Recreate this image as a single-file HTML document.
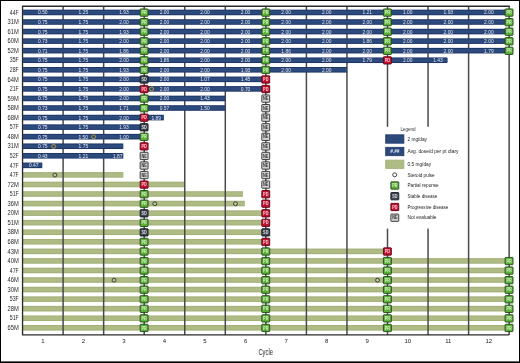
<!DOCTYPE html>
<html><head><meta charset="utf-8"><title>Swimmer plot</title>
<style>html,body{margin:0;padding:0;background:#fff;width:520px;height:363px;overflow:hidden}</style>
</head><body>
<svg width="520" height="363" viewBox="0 0 520 363" style="display:block"><rect x="0" y="0" width="520" height="363" fill="#ffffff"/><rect x="23.05" y="172.10" width="100.15" height="5.6" fill="#a2b078"/><rect x="23.05" y="173.10" width="100.15" height="3.60" fill="#afbb85"/><rect x="23.05" y="181.66" width="161.70" height="5.6" fill="#a2b078"/><rect x="23.05" y="182.66" width="161.70" height="3.60" fill="#afbb85"/><rect x="23.05" y="191.21" width="219.95" height="5.6" fill="#a2b078"/><rect x="23.05" y="192.21" width="219.95" height="3.60" fill="#afbb85"/><rect x="23.05" y="200.77" width="221.65" height="5.6" fill="#a2b078"/><rect x="23.05" y="201.77" width="221.65" height="3.60" fill="#afbb85"/><rect x="23.05" y="210.33" width="242.80" height="5.6" fill="#a2b078"/><rect x="23.05" y="211.33" width="242.80" height="3.60" fill="#afbb85"/><rect x="23.05" y="219.88" width="242.80" height="5.6" fill="#a2b078"/><rect x="23.05" y="220.88" width="242.80" height="3.60" fill="#afbb85"/><rect x="23.05" y="229.44" width="242.80" height="5.6" fill="#a2b078"/><rect x="23.05" y="230.44" width="242.80" height="3.60" fill="#afbb85"/><rect x="23.05" y="238.99" width="242.80" height="5.6" fill="#a2b078"/><rect x="23.05" y="239.99" width="242.80" height="3.60" fill="#afbb85"/><rect x="23.05" y="248.55" width="364.45" height="5.6" fill="#a2b078"/><rect x="23.05" y="249.55" width="364.45" height="3.60" fill="#afbb85"/><rect x="23.05" y="258.11" width="486.10" height="5.6" fill="#a2b078"/><rect x="23.05" y="259.11" width="486.10" height="3.60" fill="#afbb85"/><rect x="23.05" y="267.66" width="486.10" height="5.6" fill="#a2b078"/><rect x="23.05" y="268.66" width="486.10" height="3.60" fill="#afbb85"/><rect x="23.05" y="277.22" width="486.10" height="5.6" fill="#a2b078"/><rect x="23.05" y="278.22" width="486.10" height="3.60" fill="#afbb85"/><rect x="23.05" y="286.77" width="486.10" height="5.6" fill="#a2b078"/><rect x="23.05" y="287.77" width="486.10" height="3.60" fill="#afbb85"/><rect x="23.05" y="296.33" width="486.10" height="5.6" fill="#a2b078"/><rect x="23.05" y="297.33" width="486.10" height="3.60" fill="#afbb85"/><rect x="23.05" y="305.89" width="486.10" height="5.6" fill="#a2b078"/><rect x="23.05" y="306.89" width="486.10" height="3.60" fill="#afbb85"/><rect x="23.05" y="315.44" width="486.10" height="5.6" fill="#a2b078"/><rect x="23.05" y="316.44" width="486.10" height="3.60" fill="#afbb85"/><rect x="23.05" y="325.00" width="486.10" height="5.6" fill="#a2b078"/><rect x="23.05" y="326.00" width="486.10" height="3.60" fill="#afbb85"/><line x1="63.10" y1="6.2" x2="63.10" y2="334.9" stroke="#4a4a4a" stroke-width="1.5"/><line x1="103.65" y1="6.2" x2="103.65" y2="334.9" stroke="#4a4a4a" stroke-width="1.5"/><line x1="144.20" y1="6.2" x2="144.20" y2="334.9" stroke="#4a4a4a" stroke-width="1.5"/><line x1="184.75" y1="6.2" x2="184.75" y2="334.9" stroke="#4a4a4a" stroke-width="1.5"/><line x1="225.30" y1="6.2" x2="225.30" y2="334.9" stroke="#4a4a4a" stroke-width="1.5"/><line x1="265.85" y1="6.2" x2="265.85" y2="334.9" stroke="#4a4a4a" stroke-width="1.5"/><line x1="306.40" y1="6.2" x2="306.40" y2="334.9" stroke="#4a4a4a" stroke-width="1.5"/><line x1="346.95" y1="6.2" x2="346.95" y2="334.9" stroke="#4a4a4a" stroke-width="1.5"/><line x1="387.50" y1="6.2" x2="387.50" y2="334.9" stroke="#4a4a4a" stroke-width="1.5"/><line x1="428.05" y1="6.2" x2="428.05" y2="334.9" stroke="#4a4a4a" stroke-width="1.5"/><line x1="468.60" y1="6.2" x2="468.60" y2="334.9" stroke="#4a4a4a" stroke-width="1.5"/><line x1="509.15" y1="6.2" x2="509.15" y2="334.9" stroke="#4a4a4a" stroke-width="1.5"/><path d="M509.15,6.7 L509.15,6.2 L22.55,6.2 L22.55,334.9 L509.15,334.9" fill="none" stroke="#2a2a2a" stroke-width="1.35"/><rect x="23.05" y="9.65" width="486.10" height="5.6" fill="#1e3768"/><rect x="23.05" y="10.65" width="486.10" height="3.60" fill="#2d4a7c"/><rect x="23.05" y="19.21" width="486.10" height="5.6" fill="#1e3768"/><rect x="23.05" y="20.21" width="486.10" height="3.60" fill="#2d4a7c"/><rect x="23.05" y="28.76" width="486.10" height="5.6" fill="#1e3768"/><rect x="23.05" y="29.76" width="486.10" height="3.60" fill="#2d4a7c"/><rect x="23.05" y="38.32" width="486.10" height="5.6" fill="#1e3768"/><rect x="23.05" y="39.32" width="486.10" height="3.60" fill="#2d4a7c"/><rect x="23.05" y="47.87" width="486.10" height="5.6" fill="#1e3768"/><rect x="23.05" y="48.87" width="486.10" height="3.60" fill="#2d4a7c"/><rect x="23.05" y="57.43" width="424.35" height="5.6" fill="#1e3768"/><rect x="23.05" y="58.43" width="424.35" height="3.60" fill="#2d4a7c"/><rect x="23.05" y="66.99" width="323.90" height="5.6" fill="#1e3768"/><rect x="23.05" y="67.99" width="323.90" height="3.60" fill="#2d4a7c"/><rect x="23.05" y="76.54" width="242.80" height="5.6" fill="#1e3768"/><rect x="23.05" y="77.54" width="242.80" height="3.60" fill="#2d4a7c"/><rect x="23.05" y="86.10" width="242.80" height="5.6" fill="#1e3768"/><rect x="23.05" y="87.10" width="242.80" height="3.60" fill="#2d4a7c"/><rect x="23.05" y="95.65" width="202.25" height="5.6" fill="#1e3768"/><rect x="23.05" y="96.65" width="202.25" height="3.60" fill="#2d4a7c"/><rect x="23.05" y="105.21" width="202.25" height="5.6" fill="#1e3768"/><rect x="23.05" y="106.21" width="202.25" height="3.60" fill="#2d4a7c"/><rect x="23.05" y="114.77" width="140.75" height="5.6" fill="#1e3768"/><rect x="23.05" y="115.77" width="140.75" height="3.60" fill="#2d4a7c"/><rect x="23.05" y="124.32" width="121.15" height="5.6" fill="#1e3768"/><rect x="23.05" y="125.32" width="121.15" height="3.60" fill="#2d4a7c"/><rect x="23.05" y="133.88" width="121.15" height="5.6" fill="#1e3768"/><rect x="23.05" y="134.88" width="121.15" height="3.60" fill="#2d4a7c"/><rect x="23.05" y="143.43" width="100.15" height="5.6" fill="#1e3768"/><rect x="23.05" y="144.43" width="100.15" height="3.60" fill="#2d4a7c"/><rect x="23.05" y="152.99" width="100.15" height="5.6" fill="#1e3768"/><rect x="23.05" y="153.99" width="100.15" height="3.60" fill="#2d4a7c"/><rect x="23.05" y="162.55" width="19.15" height="5.6" fill="#1e3768"/><rect x="23.05" y="163.55" width="19.15" height="3.60" fill="#2d4a7c"/><rect x="352" y="126.8" width="113" height="101.8" fill="#ffffff"/><text x="42.82" y="14.45" font-size="4.9" fill="#dde3ee" text-anchor="middle" font-family="'Liberation Sans', Arial, sans-serif">0.50</text><text x="83.38" y="14.45" font-size="4.9" fill="#dde3ee" text-anchor="middle" font-family="'Liberation Sans', Arial, sans-serif">1.25</text><text x="123.92" y="14.45" font-size="4.9" fill="#dde3ee" text-anchor="middle" font-family="'Liberation Sans', Arial, sans-serif">1.93</text><text x="164.47" y="14.45" font-size="4.9" fill="#dde3ee" text-anchor="middle" font-family="'Liberation Sans', Arial, sans-serif">2.00</text><text x="205.03" y="14.45" font-size="4.9" fill="#dde3ee" text-anchor="middle" font-family="'Liberation Sans', Arial, sans-serif">2.00</text><text x="245.57" y="14.45" font-size="4.9" fill="#dde3ee" text-anchor="middle" font-family="'Liberation Sans', Arial, sans-serif">2.00</text><text x="286.12" y="14.45" font-size="4.9" fill="#dde3ee" text-anchor="middle" font-family="'Liberation Sans', Arial, sans-serif">2.00</text><text x="326.67" y="14.45" font-size="4.9" fill="#dde3ee" text-anchor="middle" font-family="'Liberation Sans', Arial, sans-serif">2.00</text><text x="367.23" y="14.45" font-size="4.9" fill="#dde3ee" text-anchor="middle" font-family="'Liberation Sans', Arial, sans-serif">1.21</text><text x="407.77" y="14.45" font-size="4.9" fill="#dde3ee" text-anchor="middle" font-family="'Liberation Sans', Arial, sans-serif">1.00</text><text x="448.32" y="14.45" font-size="4.9" fill="#dde3ee" text-anchor="middle" font-family="'Liberation Sans', Arial, sans-serif">1.93</text><text x="488.88" y="14.45" font-size="4.9" fill="#dde3ee" text-anchor="middle" font-family="'Liberation Sans', Arial, sans-serif">2.00</text><text x="42.82" y="24.01" font-size="4.9" fill="#dde3ee" text-anchor="middle" font-family="'Liberation Sans', Arial, sans-serif">0.75</text><text x="83.38" y="24.01" font-size="4.9" fill="#dde3ee" text-anchor="middle" font-family="'Liberation Sans', Arial, sans-serif">1.75</text><text x="123.92" y="24.01" font-size="4.9" fill="#dde3ee" text-anchor="middle" font-family="'Liberation Sans', Arial, sans-serif">2.00</text><text x="164.47" y="24.01" font-size="4.9" fill="#dde3ee" text-anchor="middle" font-family="'Liberation Sans', Arial, sans-serif">2.00</text><text x="205.03" y="24.01" font-size="4.9" fill="#dde3ee" text-anchor="middle" font-family="'Liberation Sans', Arial, sans-serif">2.00</text><text x="245.57" y="24.01" font-size="4.9" fill="#dde3ee" text-anchor="middle" font-family="'Liberation Sans', Arial, sans-serif">2.00</text><text x="286.12" y="24.01" font-size="4.9" fill="#dde3ee" text-anchor="middle" font-family="'Liberation Sans', Arial, sans-serif">2.00</text><text x="326.67" y="24.01" font-size="4.9" fill="#dde3ee" text-anchor="middle" font-family="'Liberation Sans', Arial, sans-serif">2.00</text><text x="367.23" y="24.01" font-size="4.9" fill="#dde3ee" text-anchor="middle" font-family="'Liberation Sans', Arial, sans-serif">2.00</text><text x="407.77" y="24.01" font-size="4.9" fill="#dde3ee" text-anchor="middle" font-family="'Liberation Sans', Arial, sans-serif">2.00</text><text x="448.32" y="24.01" font-size="4.9" fill="#dde3ee" text-anchor="middle" font-family="'Liberation Sans', Arial, sans-serif">2.00</text><text x="488.88" y="24.01" font-size="4.9" fill="#dde3ee" text-anchor="middle" font-family="'Liberation Sans', Arial, sans-serif">2.00</text><text x="42.82" y="33.56" font-size="4.9" fill="#dde3ee" text-anchor="middle" font-family="'Liberation Sans', Arial, sans-serif">0.75</text><text x="83.38" y="33.56" font-size="4.9" fill="#dde3ee" text-anchor="middle" font-family="'Liberation Sans', Arial, sans-serif">1.75</text><text x="123.92" y="33.56" font-size="4.9" fill="#dde3ee" text-anchor="middle" font-family="'Liberation Sans', Arial, sans-serif">1.93</text><text x="164.47" y="33.56" font-size="4.9" fill="#dde3ee" text-anchor="middle" font-family="'Liberation Sans', Arial, sans-serif">2.00</text><text x="205.03" y="33.56" font-size="4.9" fill="#dde3ee" text-anchor="middle" font-family="'Liberation Sans', Arial, sans-serif">2.00</text><text x="245.57" y="33.56" font-size="4.9" fill="#dde3ee" text-anchor="middle" font-family="'Liberation Sans', Arial, sans-serif">2.00</text><text x="286.12" y="33.56" font-size="4.9" fill="#dde3ee" text-anchor="middle" font-family="'Liberation Sans', Arial, sans-serif">2.00</text><text x="326.67" y="33.56" font-size="4.9" fill="#dde3ee" text-anchor="middle" font-family="'Liberation Sans', Arial, sans-serif">2.00</text><text x="367.23" y="33.56" font-size="4.9" fill="#dde3ee" text-anchor="middle" font-family="'Liberation Sans', Arial, sans-serif">2.00</text><text x="407.77" y="33.56" font-size="4.9" fill="#dde3ee" text-anchor="middle" font-family="'Liberation Sans', Arial, sans-serif">2.00</text><text x="448.32" y="33.56" font-size="4.9" fill="#dde3ee" text-anchor="middle" font-family="'Liberation Sans', Arial, sans-serif">2.00</text><text x="488.88" y="33.56" font-size="4.9" fill="#dde3ee" text-anchor="middle" font-family="'Liberation Sans', Arial, sans-serif">2.00</text><text x="42.82" y="43.12" font-size="4.9" fill="#dde3ee" text-anchor="middle" font-family="'Liberation Sans', Arial, sans-serif">0.73</text><text x="83.38" y="43.12" font-size="4.9" fill="#dde3ee" text-anchor="middle" font-family="'Liberation Sans', Arial, sans-serif">1.75</text><text x="123.92" y="43.12" font-size="4.9" fill="#dde3ee" text-anchor="middle" font-family="'Liberation Sans', Arial, sans-serif">2.00</text><text x="164.47" y="43.12" font-size="4.9" fill="#dde3ee" text-anchor="middle" font-family="'Liberation Sans', Arial, sans-serif">2.00</text><text x="205.03" y="43.12" font-size="4.9" fill="#dde3ee" text-anchor="middle" font-family="'Liberation Sans', Arial, sans-serif">2.00</text><text x="245.57" y="43.12" font-size="4.9" fill="#dde3ee" text-anchor="middle" font-family="'Liberation Sans', Arial, sans-serif">2.00</text><text x="286.12" y="43.12" font-size="4.9" fill="#dde3ee" text-anchor="middle" font-family="'Liberation Sans', Arial, sans-serif">2.00</text><text x="326.67" y="43.12" font-size="4.9" fill="#dde3ee" text-anchor="middle" font-family="'Liberation Sans', Arial, sans-serif">2.00</text><text x="367.23" y="43.12" font-size="4.9" fill="#dde3ee" text-anchor="middle" font-family="'Liberation Sans', Arial, sans-serif">1.86</text><text x="407.77" y="43.12" font-size="4.9" fill="#dde3ee" text-anchor="middle" font-family="'Liberation Sans', Arial, sans-serif">2.00</text><text x="448.32" y="43.12" font-size="4.9" fill="#dde3ee" text-anchor="middle" font-family="'Liberation Sans', Arial, sans-serif">2.00</text><text x="488.88" y="43.12" font-size="4.9" fill="#dde3ee" text-anchor="middle" font-family="'Liberation Sans', Arial, sans-serif">2.00</text><text x="42.82" y="52.67" font-size="4.9" fill="#dde3ee" text-anchor="middle" font-family="'Liberation Sans', Arial, sans-serif">0.71</text><text x="83.38" y="52.67" font-size="4.9" fill="#dde3ee" text-anchor="middle" font-family="'Liberation Sans', Arial, sans-serif">1.75</text><text x="123.92" y="52.67" font-size="4.9" fill="#dde3ee" text-anchor="middle" font-family="'Liberation Sans', Arial, sans-serif">1.86</text><text x="164.47" y="52.67" font-size="4.9" fill="#dde3ee" text-anchor="middle" font-family="'Liberation Sans', Arial, sans-serif">2.00</text><text x="205.03" y="52.67" font-size="4.9" fill="#dde3ee" text-anchor="middle" font-family="'Liberation Sans', Arial, sans-serif">2.00</text><text x="245.57" y="52.67" font-size="4.9" fill="#dde3ee" text-anchor="middle" font-family="'Liberation Sans', Arial, sans-serif">2.00</text><text x="286.12" y="52.67" font-size="4.9" fill="#dde3ee" text-anchor="middle" font-family="'Liberation Sans', Arial, sans-serif">1.86</text><text x="326.67" y="52.67" font-size="4.9" fill="#dde3ee" text-anchor="middle" font-family="'Liberation Sans', Arial, sans-serif">2.00</text><text x="367.23" y="52.67" font-size="4.9" fill="#dde3ee" text-anchor="middle" font-family="'Liberation Sans', Arial, sans-serif">2.00</text><text x="407.77" y="52.67" font-size="4.9" fill="#dde3ee" text-anchor="middle" font-family="'Liberation Sans', Arial, sans-serif">2.00</text><text x="448.32" y="52.67" font-size="4.9" fill="#dde3ee" text-anchor="middle" font-family="'Liberation Sans', Arial, sans-serif">2.00</text><text x="488.88" y="52.67" font-size="4.9" fill="#dde3ee" text-anchor="middle" font-family="'Liberation Sans', Arial, sans-serif">1.79</text><text x="42.82" y="62.23" font-size="4.9" fill="#dde3ee" text-anchor="middle" font-family="'Liberation Sans', Arial, sans-serif">0.75</text><text x="83.38" y="62.23" font-size="4.9" fill="#dde3ee" text-anchor="middle" font-family="'Liberation Sans', Arial, sans-serif">1.75</text><text x="123.92" y="62.23" font-size="4.9" fill="#dde3ee" text-anchor="middle" font-family="'Liberation Sans', Arial, sans-serif">2.00</text><text x="164.47" y="62.23" font-size="4.9" fill="#dde3ee" text-anchor="middle" font-family="'Liberation Sans', Arial, sans-serif">1.86</text><text x="205.03" y="62.23" font-size="4.9" fill="#dde3ee" text-anchor="middle" font-family="'Liberation Sans', Arial, sans-serif">2.00</text><text x="245.57" y="62.23" font-size="4.9" fill="#dde3ee" text-anchor="middle" font-family="'Liberation Sans', Arial, sans-serif">2.00</text><text x="286.12" y="62.23" font-size="4.9" fill="#dde3ee" text-anchor="middle" font-family="'Liberation Sans', Arial, sans-serif">2.00</text><text x="326.67" y="62.23" font-size="4.9" fill="#dde3ee" text-anchor="middle" font-family="'Liberation Sans', Arial, sans-serif">2.00</text><text x="367.23" y="62.23" font-size="4.9" fill="#dde3ee" text-anchor="middle" font-family="'Liberation Sans', Arial, sans-serif">1.79</text><text x="407.77" y="62.23" font-size="4.9" fill="#dde3ee" text-anchor="middle" font-family="'Liberation Sans', Arial, sans-serif">2.00</text><text x="438.00" y="62.23" font-size="4.9" fill="#dde3ee" text-anchor="middle" font-family="'Liberation Sans', Arial, sans-serif">1.43</text><text x="42.82" y="71.79" font-size="4.9" fill="#dde3ee" text-anchor="middle" font-family="'Liberation Sans', Arial, sans-serif">0.75</text><text x="83.38" y="71.79" font-size="4.9" fill="#dde3ee" text-anchor="middle" font-family="'Liberation Sans', Arial, sans-serif">1.75</text><text x="123.92" y="71.79" font-size="4.9" fill="#dde3ee" text-anchor="middle" font-family="'Liberation Sans', Arial, sans-serif">1.93</text><text x="164.47" y="71.79" font-size="4.9" fill="#dde3ee" text-anchor="middle" font-family="'Liberation Sans', Arial, sans-serif">2.00</text><text x="205.03" y="71.79" font-size="4.9" fill="#dde3ee" text-anchor="middle" font-family="'Liberation Sans', Arial, sans-serif">2.00</text><text x="245.57" y="71.79" font-size="4.9" fill="#dde3ee" text-anchor="middle" font-family="'Liberation Sans', Arial, sans-serif">1.93</text><text x="286.12" y="71.79" font-size="4.9" fill="#dde3ee" text-anchor="middle" font-family="'Liberation Sans', Arial, sans-serif">2.00</text><text x="326.67" y="71.79" font-size="4.9" fill="#dde3ee" text-anchor="middle" font-family="'Liberation Sans', Arial, sans-serif">2.00</text><text x="42.82" y="81.34" font-size="4.9" fill="#dde3ee" text-anchor="middle" font-family="'Liberation Sans', Arial, sans-serif">0.75</text><text x="83.38" y="81.34" font-size="4.9" fill="#dde3ee" text-anchor="middle" font-family="'Liberation Sans', Arial, sans-serif">1.75</text><text x="123.92" y="81.34" font-size="4.9" fill="#dde3ee" text-anchor="middle" font-family="'Liberation Sans', Arial, sans-serif">2.00</text><text x="164.47" y="81.34" font-size="4.9" fill="#dde3ee" text-anchor="middle" font-family="'Liberation Sans', Arial, sans-serif">2.00</text><text x="205.03" y="81.34" font-size="4.9" fill="#dde3ee" text-anchor="middle" font-family="'Liberation Sans', Arial, sans-serif">1.07</text><text x="245.57" y="81.34" font-size="4.9" fill="#dde3ee" text-anchor="middle" font-family="'Liberation Sans', Arial, sans-serif">1.45</text><text x="42.82" y="90.90" font-size="4.9" fill="#dde3ee" text-anchor="middle" font-family="'Liberation Sans', Arial, sans-serif">0.75</text><text x="83.38" y="90.90" font-size="4.9" fill="#dde3ee" text-anchor="middle" font-family="'Liberation Sans', Arial, sans-serif">1.75</text><text x="123.92" y="90.90" font-size="4.9" fill="#dde3ee" text-anchor="middle" font-family="'Liberation Sans', Arial, sans-serif">2.00</text><text x="164.47" y="90.90" font-size="4.9" fill="#dde3ee" text-anchor="middle" font-family="'Liberation Sans', Arial, sans-serif">2.00</text><text x="205.03" y="90.90" font-size="4.9" fill="#dde3ee" text-anchor="middle" font-family="'Liberation Sans', Arial, sans-serif">2.00</text><text x="245.57" y="90.90" font-size="4.9" fill="#dde3ee" text-anchor="middle" font-family="'Liberation Sans', Arial, sans-serif">0.70</text><text x="42.82" y="100.45" font-size="4.9" fill="#dde3ee" text-anchor="middle" font-family="'Liberation Sans', Arial, sans-serif">0.75</text><text x="83.38" y="100.45" font-size="4.9" fill="#dde3ee" text-anchor="middle" font-family="'Liberation Sans', Arial, sans-serif">1.75</text><text x="123.92" y="100.45" font-size="4.9" fill="#dde3ee" text-anchor="middle" font-family="'Liberation Sans', Arial, sans-serif">2.00</text><text x="164.47" y="100.45" font-size="4.9" fill="#dde3ee" text-anchor="middle" font-family="'Liberation Sans', Arial, sans-serif">2.00</text><text x="205.03" y="100.45" font-size="4.9" fill="#dde3ee" text-anchor="middle" font-family="'Liberation Sans', Arial, sans-serif">1.43</text><text x="42.82" y="110.01" font-size="4.9" fill="#dde3ee" text-anchor="middle" font-family="'Liberation Sans', Arial, sans-serif">0.73</text><text x="83.38" y="110.01" font-size="4.9" fill="#dde3ee" text-anchor="middle" font-family="'Liberation Sans', Arial, sans-serif">1.75</text><text x="123.92" y="110.01" font-size="4.9" fill="#dde3ee" text-anchor="middle" font-family="'Liberation Sans', Arial, sans-serif">1.71</text><text x="164.47" y="110.01" font-size="4.9" fill="#dde3ee" text-anchor="middle" font-family="'Liberation Sans', Arial, sans-serif">0.57</text><text x="205.03" y="110.01" font-size="4.9" fill="#dde3ee" text-anchor="middle" font-family="'Liberation Sans', Arial, sans-serif">1.50</text><text x="42.82" y="119.57" font-size="4.9" fill="#dde3ee" text-anchor="middle" font-family="'Liberation Sans', Arial, sans-serif">0.75</text><text x="83.38" y="119.57" font-size="4.9" fill="#dde3ee" text-anchor="middle" font-family="'Liberation Sans', Arial, sans-serif">1.75</text><text x="123.92" y="119.57" font-size="4.9" fill="#dde3ee" text-anchor="middle" font-family="'Liberation Sans', Arial, sans-serif">2.00</text><text x="156.30" y="119.57" font-size="4.9" fill="#dde3ee" text-anchor="middle" font-family="'Liberation Sans', Arial, sans-serif">1.89</text><text x="42.82" y="129.12" font-size="4.9" fill="#dde3ee" text-anchor="middle" font-family="'Liberation Sans', Arial, sans-serif">0.75</text><text x="83.38" y="129.12" font-size="4.9" fill="#dde3ee" text-anchor="middle" font-family="'Liberation Sans', Arial, sans-serif">1.75</text><text x="123.92" y="129.12" font-size="4.9" fill="#dde3ee" text-anchor="middle" font-family="'Liberation Sans', Arial, sans-serif">1.93</text><text x="42.82" y="138.68" font-size="4.9" fill="#dde3ee" text-anchor="middle" font-family="'Liberation Sans', Arial, sans-serif">0.75</text><text x="83.20" y="138.68" font-size="4.9" fill="#dde3ee" text-anchor="middle" font-family="'Liberation Sans', Arial, sans-serif">1.50</text><text x="123.92" y="138.68" font-size="4.9" fill="#dde3ee" text-anchor="middle" font-family="'Liberation Sans', Arial, sans-serif">1.00</text><text x="42.82" y="148.23" font-size="4.9" fill="#dde3ee" text-anchor="middle" font-family="'Liberation Sans', Arial, sans-serif">0.75</text><text x="83.38" y="148.23" font-size="4.9" fill="#dde3ee" text-anchor="middle" font-family="'Liberation Sans', Arial, sans-serif">1.75</text><text x="42.82" y="157.79" font-size="4.9" fill="#dde3ee" text-anchor="middle" font-family="'Liberation Sans', Arial, sans-serif">0.43</text><text x="83.38" y="157.79" font-size="4.9" fill="#dde3ee" text-anchor="middle" font-family="'Liberation Sans', Arial, sans-serif">1.21</text><text x="117.80" y="157.79" font-size="4.9" fill="#dde3ee" text-anchor="middle" font-family="'Liberation Sans', Arial, sans-serif">1.87</text><text x="33.80" y="167.35" font-size="4.9" fill="#dde3ee" text-anchor="middle" font-family="'Liberation Sans', Arial, sans-serif">0.47</text><circle cx="151.60" cy="89.05" r="1.95" fill="#2d4a7c" stroke="#c9a832" stroke-width="0.85"/><circle cx="93.60" cy="136.83" r="1.95" fill="#2d4a7c" stroke="#c9a832" stroke-width="0.85"/><circle cx="53.70" cy="146.38" r="1.95" fill="#2d4a7c" stroke="#c9a832" stroke-width="0.85"/><circle cx="54.90" cy="175.05" r="1.95" fill="#bdc995" stroke="#2a2a2a" stroke-width="0.85"/><circle cx="154.80" cy="203.72" r="1.95" fill="#bdc995" stroke="#2a2a2a" stroke-width="0.85"/><circle cx="235.50" cy="203.72" r="1.95" fill="#bdc995" stroke="#2a2a2a" stroke-width="0.85"/><circle cx="114.05" cy="280.17" r="1.95" fill="#bdc995" stroke="#2a2a2a" stroke-width="0.85"/><circle cx="377.50" cy="280.17" r="1.95" fill="#bdc995" stroke="#2a2a2a" stroke-width="0.85"/><rect x="140.15" y="8.95" width="7.9" height="7.3" rx="0.5" fill="#5cb139" stroke="#24461a" stroke-width="0.9"/><text x="144.10" y="14.25" font-size="4.5" font-weight="bold" fill="#d8f0c8" text-anchor="middle" font-family="'Liberation Sans', Arial, sans-serif" textLength="5.3" lengthAdjust="spacingAndGlyphs">PR</text><rect x="261.80" y="8.95" width="7.9" height="7.3" rx="0.5" fill="#5cb139" stroke="#24461a" stroke-width="0.9"/><text x="265.75" y="14.25" font-size="4.5" font-weight="bold" fill="#d8f0c8" text-anchor="middle" font-family="'Liberation Sans', Arial, sans-serif" textLength="5.3" lengthAdjust="spacingAndGlyphs">PR</text><rect x="383.45" y="8.95" width="7.9" height="7.3" rx="0.5" fill="#5cb139" stroke="#24461a" stroke-width="0.9"/><text x="387.40" y="14.25" font-size="4.5" font-weight="bold" fill="#d8f0c8" text-anchor="middle" font-family="'Liberation Sans', Arial, sans-serif" textLength="5.3" lengthAdjust="spacingAndGlyphs">PR</text><rect x="505.10" y="8.95" width="7.9" height="7.3" rx="0.5" fill="#5cb139" stroke="#24461a" stroke-width="0.9"/><text x="509.05" y="14.25" font-size="4.5" font-weight="bold" fill="#d8f0c8" text-anchor="middle" font-family="'Liberation Sans', Arial, sans-serif" textLength="5.3" lengthAdjust="spacingAndGlyphs">PR</text><rect x="140.15" y="18.51" width="7.9" height="7.3" rx="0.5" fill="#5cb139" stroke="#24461a" stroke-width="0.9"/><text x="144.10" y="23.81" font-size="4.5" font-weight="bold" fill="#d8f0c8" text-anchor="middle" font-family="'Liberation Sans', Arial, sans-serif" textLength="5.3" lengthAdjust="spacingAndGlyphs">PR</text><rect x="261.80" y="18.51" width="7.9" height="7.3" rx="0.5" fill="#5cb139" stroke="#24461a" stroke-width="0.9"/><text x="265.75" y="23.81" font-size="4.5" font-weight="bold" fill="#d8f0c8" text-anchor="middle" font-family="'Liberation Sans', Arial, sans-serif" textLength="5.3" lengthAdjust="spacingAndGlyphs">PR</text><rect x="383.45" y="18.51" width="7.9" height="7.3" rx="0.5" fill="#5cb139" stroke="#24461a" stroke-width="0.9"/><text x="387.40" y="23.81" font-size="4.5" font-weight="bold" fill="#d8f0c8" text-anchor="middle" font-family="'Liberation Sans', Arial, sans-serif" textLength="5.3" lengthAdjust="spacingAndGlyphs">PR</text><rect x="505.10" y="18.51" width="7.9" height="7.3" rx="0.5" fill="#5cb139" stroke="#24461a" stroke-width="0.9"/><text x="509.05" y="23.81" font-size="4.5" font-weight="bold" fill="#d8f0c8" text-anchor="middle" font-family="'Liberation Sans', Arial, sans-serif" textLength="5.3" lengthAdjust="spacingAndGlyphs">PR</text><rect x="140.15" y="28.06" width="7.9" height="7.3" rx="0.5" fill="#5cb139" stroke="#24461a" stroke-width="0.9"/><text x="144.10" y="33.36" font-size="4.5" font-weight="bold" fill="#d8f0c8" text-anchor="middle" font-family="'Liberation Sans', Arial, sans-serif" textLength="5.3" lengthAdjust="spacingAndGlyphs">PR</text><rect x="261.80" y="28.06" width="7.9" height="7.3" rx="0.5" fill="#5cb139" stroke="#24461a" stroke-width="0.9"/><text x="265.75" y="33.36" font-size="4.5" font-weight="bold" fill="#d8f0c8" text-anchor="middle" font-family="'Liberation Sans', Arial, sans-serif" textLength="5.3" lengthAdjust="spacingAndGlyphs">PR</text><rect x="383.45" y="28.06" width="7.9" height="7.3" rx="0.5" fill="#5cb139" stroke="#24461a" stroke-width="0.9"/><text x="387.40" y="33.36" font-size="4.5" font-weight="bold" fill="#d8f0c8" text-anchor="middle" font-family="'Liberation Sans', Arial, sans-serif" textLength="5.3" lengthAdjust="spacingAndGlyphs">PR</text><rect x="505.10" y="28.06" width="7.9" height="7.3" rx="0.5" fill="#5cb139" stroke="#24461a" stroke-width="0.9"/><text x="509.05" y="33.36" font-size="4.5" font-weight="bold" fill="#d8f0c8" text-anchor="middle" font-family="'Liberation Sans', Arial, sans-serif" textLength="5.3" lengthAdjust="spacingAndGlyphs">PR</text><rect x="140.15" y="37.62" width="7.9" height="7.3" rx="0.5" fill="#5cb139" stroke="#24461a" stroke-width="0.9"/><text x="144.10" y="42.92" font-size="4.5" font-weight="bold" fill="#d8f0c8" text-anchor="middle" font-family="'Liberation Sans', Arial, sans-serif" textLength="5.3" lengthAdjust="spacingAndGlyphs">PR</text><rect x="261.80" y="37.62" width="7.9" height="7.3" rx="0.5" fill="#5cb139" stroke="#24461a" stroke-width="0.9"/><text x="265.75" y="42.92" font-size="4.5" font-weight="bold" fill="#d8f0c8" text-anchor="middle" font-family="'Liberation Sans', Arial, sans-serif" textLength="5.3" lengthAdjust="spacingAndGlyphs">PR</text><rect x="383.45" y="37.62" width="7.9" height="7.3" rx="0.5" fill="#5cb139" stroke="#24461a" stroke-width="0.9"/><text x="387.40" y="42.92" font-size="4.5" font-weight="bold" fill="#d8f0c8" text-anchor="middle" font-family="'Liberation Sans', Arial, sans-serif" textLength="5.3" lengthAdjust="spacingAndGlyphs">PR</text><rect x="505.10" y="37.62" width="7.9" height="7.3" rx="0.5" fill="#5cb139" stroke="#24461a" stroke-width="0.9"/><text x="509.05" y="42.92" font-size="4.5" font-weight="bold" fill="#d8f0c8" text-anchor="middle" font-family="'Liberation Sans', Arial, sans-serif" textLength="5.3" lengthAdjust="spacingAndGlyphs">PR</text><rect x="140.15" y="47.17" width="7.9" height="7.3" rx="0.5" fill="#5cb139" stroke="#24461a" stroke-width="0.9"/><text x="144.10" y="52.47" font-size="4.5" font-weight="bold" fill="#d8f0c8" text-anchor="middle" font-family="'Liberation Sans', Arial, sans-serif" textLength="5.3" lengthAdjust="spacingAndGlyphs">PR</text><rect x="261.80" y="47.17" width="7.9" height="7.3" rx="0.5" fill="#5cb139" stroke="#24461a" stroke-width="0.9"/><text x="265.75" y="52.47" font-size="4.5" font-weight="bold" fill="#d8f0c8" text-anchor="middle" font-family="'Liberation Sans', Arial, sans-serif" textLength="5.3" lengthAdjust="spacingAndGlyphs">PR</text><rect x="383.45" y="47.17" width="7.9" height="7.3" rx="0.5" fill="#5cb139" stroke="#24461a" stroke-width="0.9"/><text x="387.40" y="52.47" font-size="4.5" font-weight="bold" fill="#d8f0c8" text-anchor="middle" font-family="'Liberation Sans', Arial, sans-serif" textLength="5.3" lengthAdjust="spacingAndGlyphs">PR</text><rect x="505.10" y="47.17" width="7.9" height="7.3" rx="0.5" fill="#5cb139" stroke="#24461a" stroke-width="0.9"/><text x="509.05" y="52.47" font-size="4.5" font-weight="bold" fill="#d8f0c8" text-anchor="middle" font-family="'Liberation Sans', Arial, sans-serif" textLength="5.3" lengthAdjust="spacingAndGlyphs">PR</text><rect x="140.15" y="56.73" width="7.9" height="7.3" rx="0.5" fill="#5cb139" stroke="#24461a" stroke-width="0.9"/><text x="144.10" y="62.03" font-size="4.5" font-weight="bold" fill="#d8f0c8" text-anchor="middle" font-family="'Liberation Sans', Arial, sans-serif" textLength="5.3" lengthAdjust="spacingAndGlyphs">PR</text><rect x="261.80" y="56.73" width="7.9" height="7.3" rx="0.5" fill="#5cb139" stroke="#24461a" stroke-width="0.9"/><text x="265.75" y="62.03" font-size="4.5" font-weight="bold" fill="#d8f0c8" text-anchor="middle" font-family="'Liberation Sans', Arial, sans-serif" textLength="5.3" lengthAdjust="spacingAndGlyphs">PR</text><rect x="383.45" y="56.73" width="7.9" height="7.3" rx="0.5" fill="#c4102f" stroke="#5a0614" stroke-width="0.9"/><text x="387.40" y="62.03" font-size="4.5" font-weight="bold" fill="#f4d0d8" text-anchor="middle" font-family="'Liberation Sans', Arial, sans-serif" textLength="5.3" lengthAdjust="spacingAndGlyphs">PD</text><rect x="140.15" y="66.29" width="7.9" height="7.3" rx="0.5" fill="#5cb139" stroke="#24461a" stroke-width="0.9"/><text x="144.10" y="71.59" font-size="4.5" font-weight="bold" fill="#d8f0c8" text-anchor="middle" font-family="'Liberation Sans', Arial, sans-serif" textLength="5.3" lengthAdjust="spacingAndGlyphs">PR</text><rect x="261.80" y="66.29" width="7.9" height="7.3" rx="0.5" fill="#5cb139" stroke="#24461a" stroke-width="0.9"/><text x="265.75" y="71.59" font-size="4.5" font-weight="bold" fill="#d8f0c8" text-anchor="middle" font-family="'Liberation Sans', Arial, sans-serif" textLength="5.3" lengthAdjust="spacingAndGlyphs">PR</text><rect x="140.15" y="75.84" width="7.9" height="7.3" rx="0.5" fill="#3d4452" stroke="#15181e" stroke-width="0.9"/><text x="144.10" y="81.14" font-size="4.5" font-weight="bold" fill="#d8dce4" text-anchor="middle" font-family="'Liberation Sans', Arial, sans-serif" textLength="5.3" lengthAdjust="spacingAndGlyphs">SD</text><rect x="261.80" y="75.84" width="7.9" height="7.3" rx="0.5" fill="#c4102f" stroke="#5a0614" stroke-width="0.9"/><text x="265.75" y="81.14" font-size="4.5" font-weight="bold" fill="#f4d0d8" text-anchor="middle" font-family="'Liberation Sans', Arial, sans-serif" textLength="5.3" lengthAdjust="spacingAndGlyphs">PD</text><rect x="140.15" y="85.40" width="7.9" height="7.3" rx="0.5" fill="#c4102f" stroke="#5a0614" stroke-width="0.9"/><text x="144.10" y="90.70" font-size="4.5" font-weight="bold" fill="#f4d0d8" text-anchor="middle" font-family="'Liberation Sans', Arial, sans-serif" textLength="5.3" lengthAdjust="spacingAndGlyphs">PD</text><rect x="261.80" y="85.40" width="7.9" height="7.3" rx="0.5" fill="#c4102f" stroke="#5a0614" stroke-width="0.9"/><text x="265.75" y="90.70" font-size="4.5" font-weight="bold" fill="#f4d0d8" text-anchor="middle" font-family="'Liberation Sans', Arial, sans-serif" textLength="5.3" lengthAdjust="spacingAndGlyphs">PD</text><rect x="140.15" y="94.95" width="7.9" height="7.3" rx="0.5" fill="#5cb139" stroke="#24461a" stroke-width="0.9"/><text x="144.10" y="100.25" font-size="4.5" font-weight="bold" fill="#d8f0c8" text-anchor="middle" font-family="'Liberation Sans', Arial, sans-serif" textLength="5.3" lengthAdjust="spacingAndGlyphs">PR</text><rect x="261.80" y="94.95" width="7.9" height="7.3" rx="0.5" fill="#cfcfcf" stroke="#2e2e2e" stroke-width="0.9"/><text x="265.75" y="100.25" font-size="4.5" font-weight="bold" fill="#333333" text-anchor="middle" font-family="'Liberation Sans', Arial, sans-serif" textLength="5.3" lengthAdjust="spacingAndGlyphs">NE</text><rect x="140.15" y="104.51" width="7.9" height="7.3" rx="0.5" fill="#5cb139" stroke="#24461a" stroke-width="0.9"/><text x="144.10" y="109.81" font-size="4.5" font-weight="bold" fill="#d8f0c8" text-anchor="middle" font-family="'Liberation Sans', Arial, sans-serif" textLength="5.3" lengthAdjust="spacingAndGlyphs">PR</text><rect x="261.80" y="104.51" width="7.9" height="7.3" rx="0.5" fill="#cfcfcf" stroke="#2e2e2e" stroke-width="0.9"/><text x="265.75" y="109.81" font-size="4.5" font-weight="bold" fill="#333333" text-anchor="middle" font-family="'Liberation Sans', Arial, sans-serif" textLength="5.3" lengthAdjust="spacingAndGlyphs">NE</text><rect x="140.15" y="114.07" width="7.9" height="7.3" rx="0.5" fill="#c4102f" stroke="#5a0614" stroke-width="0.9"/><text x="144.10" y="119.37" font-size="4.5" font-weight="bold" fill="#f4d0d8" text-anchor="middle" font-family="'Liberation Sans', Arial, sans-serif" textLength="5.3" lengthAdjust="spacingAndGlyphs">PD</text><rect x="261.80" y="114.07" width="7.9" height="7.3" rx="0.5" fill="#cfcfcf" stroke="#2e2e2e" stroke-width="0.9"/><text x="265.75" y="119.37" font-size="4.5" font-weight="bold" fill="#333333" text-anchor="middle" font-family="'Liberation Sans', Arial, sans-serif" textLength="5.3" lengthAdjust="spacingAndGlyphs">NE</text><rect x="140.15" y="123.62" width="7.9" height="7.3" rx="0.5" fill="#3d4452" stroke="#15181e" stroke-width="0.9"/><text x="144.10" y="128.92" font-size="4.5" font-weight="bold" fill="#d8dce4" text-anchor="middle" font-family="'Liberation Sans', Arial, sans-serif" textLength="5.3" lengthAdjust="spacingAndGlyphs">SD</text><rect x="261.80" y="123.62" width="7.9" height="7.3" rx="0.5" fill="#cfcfcf" stroke="#2e2e2e" stroke-width="0.9"/><text x="265.75" y="128.92" font-size="4.5" font-weight="bold" fill="#333333" text-anchor="middle" font-family="'Liberation Sans', Arial, sans-serif" textLength="5.3" lengthAdjust="spacingAndGlyphs">NE</text><rect x="140.15" y="133.18" width="7.9" height="7.3" rx="0.5" fill="#5cb139" stroke="#24461a" stroke-width="0.9"/><text x="144.10" y="138.48" font-size="4.5" font-weight="bold" fill="#d8f0c8" text-anchor="middle" font-family="'Liberation Sans', Arial, sans-serif" textLength="5.3" lengthAdjust="spacingAndGlyphs">PR</text><rect x="261.80" y="133.18" width="7.9" height="7.3" rx="0.5" fill="#cfcfcf" stroke="#2e2e2e" stroke-width="0.9"/><text x="265.75" y="138.48" font-size="4.5" font-weight="bold" fill="#333333" text-anchor="middle" font-family="'Liberation Sans', Arial, sans-serif" textLength="5.3" lengthAdjust="spacingAndGlyphs">NE</text><rect x="140.15" y="142.73" width="7.9" height="7.3" rx="0.5" fill="#c4102f" stroke="#5a0614" stroke-width="0.9"/><text x="144.10" y="148.03" font-size="4.5" font-weight="bold" fill="#f4d0d8" text-anchor="middle" font-family="'Liberation Sans', Arial, sans-serif" textLength="5.3" lengthAdjust="spacingAndGlyphs">PD</text><rect x="261.80" y="142.73" width="7.9" height="7.3" rx="0.5" fill="#cfcfcf" stroke="#2e2e2e" stroke-width="0.9"/><text x="265.75" y="148.03" font-size="4.5" font-weight="bold" fill="#333333" text-anchor="middle" font-family="'Liberation Sans', Arial, sans-serif" textLength="5.3" lengthAdjust="spacingAndGlyphs">NE</text><rect x="140.15" y="152.29" width="7.9" height="7.3" rx="0.5" fill="#cfcfcf" stroke="#2e2e2e" stroke-width="0.9"/><text x="144.10" y="157.59" font-size="4.5" font-weight="bold" fill="#333333" text-anchor="middle" font-family="'Liberation Sans', Arial, sans-serif" textLength="5.3" lengthAdjust="spacingAndGlyphs">NE</text><rect x="261.80" y="152.29" width="7.9" height="7.3" rx="0.5" fill="#cfcfcf" stroke="#2e2e2e" stroke-width="0.9"/><text x="265.75" y="157.59" font-size="4.5" font-weight="bold" fill="#333333" text-anchor="middle" font-family="'Liberation Sans', Arial, sans-serif" textLength="5.3" lengthAdjust="spacingAndGlyphs">NE</text><rect x="140.15" y="161.85" width="7.9" height="7.3" rx="0.5" fill="#cfcfcf" stroke="#2e2e2e" stroke-width="0.9"/><text x="144.10" y="167.15" font-size="4.5" font-weight="bold" fill="#333333" text-anchor="middle" font-family="'Liberation Sans', Arial, sans-serif" textLength="5.3" lengthAdjust="spacingAndGlyphs">NE</text><rect x="261.80" y="161.85" width="7.9" height="7.3" rx="0.5" fill="#cfcfcf" stroke="#2e2e2e" stroke-width="0.9"/><text x="265.75" y="167.15" font-size="4.5" font-weight="bold" fill="#333333" text-anchor="middle" font-family="'Liberation Sans', Arial, sans-serif" textLength="5.3" lengthAdjust="spacingAndGlyphs">NE</text><rect x="140.15" y="171.40" width="7.9" height="7.3" rx="0.5" fill="#cfcfcf" stroke="#2e2e2e" stroke-width="0.9"/><text x="144.10" y="176.70" font-size="4.5" font-weight="bold" fill="#333333" text-anchor="middle" font-family="'Liberation Sans', Arial, sans-serif" textLength="5.3" lengthAdjust="spacingAndGlyphs">NE</text><rect x="261.80" y="171.40" width="7.9" height="7.3" rx="0.5" fill="#cfcfcf" stroke="#2e2e2e" stroke-width="0.9"/><text x="265.75" y="176.70" font-size="4.5" font-weight="bold" fill="#333333" text-anchor="middle" font-family="'Liberation Sans', Arial, sans-serif" textLength="5.3" lengthAdjust="spacingAndGlyphs">NE</text><rect x="140.15" y="180.96" width="7.9" height="7.3" rx="0.5" fill="#c4102f" stroke="#5a0614" stroke-width="0.9"/><text x="144.10" y="186.26" font-size="4.5" font-weight="bold" fill="#f4d0d8" text-anchor="middle" font-family="'Liberation Sans', Arial, sans-serif" textLength="5.3" lengthAdjust="spacingAndGlyphs">PD</text><rect x="261.80" y="180.96" width="7.9" height="7.3" rx="0.5" fill="#cfcfcf" stroke="#2e2e2e" stroke-width="0.9"/><text x="265.75" y="186.26" font-size="4.5" font-weight="bold" fill="#333333" text-anchor="middle" font-family="'Liberation Sans', Arial, sans-serif" textLength="5.3" lengthAdjust="spacingAndGlyphs">NE</text><rect x="140.15" y="190.51" width="7.9" height="7.3" rx="0.5" fill="#5cb139" stroke="#24461a" stroke-width="0.9"/><text x="144.10" y="195.81" font-size="4.5" font-weight="bold" fill="#d8f0c8" text-anchor="middle" font-family="'Liberation Sans', Arial, sans-serif" textLength="5.3" lengthAdjust="spacingAndGlyphs">PR</text><rect x="261.80" y="190.51" width="7.9" height="7.3" rx="0.5" fill="#c4102f" stroke="#5a0614" stroke-width="0.9"/><text x="265.75" y="195.81" font-size="4.5" font-weight="bold" fill="#f4d0d8" text-anchor="middle" font-family="'Liberation Sans', Arial, sans-serif" textLength="5.3" lengthAdjust="spacingAndGlyphs">PD</text><rect x="140.15" y="200.07" width="7.9" height="7.3" rx="0.5" fill="#5cb139" stroke="#24461a" stroke-width="0.9"/><text x="144.10" y="205.37" font-size="4.5" font-weight="bold" fill="#d8f0c8" text-anchor="middle" font-family="'Liberation Sans', Arial, sans-serif" textLength="5.3" lengthAdjust="spacingAndGlyphs">PR</text><rect x="261.80" y="200.07" width="7.9" height="7.3" rx="0.5" fill="#c4102f" stroke="#5a0614" stroke-width="0.9"/><text x="265.75" y="205.37" font-size="4.5" font-weight="bold" fill="#f4d0d8" text-anchor="middle" font-family="'Liberation Sans', Arial, sans-serif" textLength="5.3" lengthAdjust="spacingAndGlyphs">PD</text><rect x="140.15" y="209.63" width="7.9" height="7.3" rx="0.5" fill="#3d4452" stroke="#15181e" stroke-width="0.9"/><text x="144.10" y="214.93" font-size="4.5" font-weight="bold" fill="#d8dce4" text-anchor="middle" font-family="'Liberation Sans', Arial, sans-serif" textLength="5.3" lengthAdjust="spacingAndGlyphs">SD</text><rect x="261.80" y="209.63" width="7.9" height="7.3" rx="0.5" fill="#c4102f" stroke="#5a0614" stroke-width="0.9"/><text x="265.75" y="214.93" font-size="4.5" font-weight="bold" fill="#f4d0d8" text-anchor="middle" font-family="'Liberation Sans', Arial, sans-serif" textLength="5.3" lengthAdjust="spacingAndGlyphs">PD</text><rect x="140.15" y="219.18" width="7.9" height="7.3" rx="0.5" fill="#5cb139" stroke="#24461a" stroke-width="0.9"/><text x="144.10" y="224.48" font-size="4.5" font-weight="bold" fill="#d8f0c8" text-anchor="middle" font-family="'Liberation Sans', Arial, sans-serif" textLength="5.3" lengthAdjust="spacingAndGlyphs">PR</text><rect x="261.80" y="219.18" width="7.9" height="7.3" rx="0.5" fill="#c4102f" stroke="#5a0614" stroke-width="0.9"/><text x="265.75" y="224.48" font-size="4.5" font-weight="bold" fill="#f4d0d8" text-anchor="middle" font-family="'Liberation Sans', Arial, sans-serif" textLength="5.3" lengthAdjust="spacingAndGlyphs">PD</text><rect x="140.15" y="228.74" width="7.9" height="7.3" rx="0.5" fill="#3d4452" stroke="#15181e" stroke-width="0.9"/><text x="144.10" y="234.04" font-size="4.5" font-weight="bold" fill="#d8dce4" text-anchor="middle" font-family="'Liberation Sans', Arial, sans-serif" textLength="5.3" lengthAdjust="spacingAndGlyphs">SD</text><rect x="261.80" y="228.74" width="7.9" height="7.3" rx="0.5" fill="#3d4452" stroke="#15181e" stroke-width="0.9"/><text x="265.75" y="234.04" font-size="4.5" font-weight="bold" fill="#d8dce4" text-anchor="middle" font-family="'Liberation Sans', Arial, sans-serif" textLength="5.3" lengthAdjust="spacingAndGlyphs">SD</text><rect x="140.15" y="238.29" width="7.9" height="7.3" rx="0.5" fill="#5cb139" stroke="#24461a" stroke-width="0.9"/><text x="144.10" y="243.59" font-size="4.5" font-weight="bold" fill="#d8f0c8" text-anchor="middle" font-family="'Liberation Sans', Arial, sans-serif" textLength="5.3" lengthAdjust="spacingAndGlyphs">PR</text><rect x="261.80" y="238.29" width="7.9" height="7.3" rx="0.5" fill="#c4102f" stroke="#5a0614" stroke-width="0.9"/><text x="265.75" y="243.59" font-size="4.5" font-weight="bold" fill="#f4d0d8" text-anchor="middle" font-family="'Liberation Sans', Arial, sans-serif" textLength="5.3" lengthAdjust="spacingAndGlyphs">PD</text><rect x="140.15" y="247.85" width="7.9" height="7.3" rx="0.5" fill="#5cb139" stroke="#24461a" stroke-width="0.9"/><text x="144.10" y="253.15" font-size="4.5" font-weight="bold" fill="#d8f0c8" text-anchor="middle" font-family="'Liberation Sans', Arial, sans-serif" textLength="5.3" lengthAdjust="spacingAndGlyphs">PR</text><rect x="261.80" y="247.85" width="7.9" height="7.3" rx="0.5" fill="#5cb139" stroke="#24461a" stroke-width="0.9"/><text x="265.75" y="253.15" font-size="4.5" font-weight="bold" fill="#d8f0c8" text-anchor="middle" font-family="'Liberation Sans', Arial, sans-serif" textLength="5.3" lengthAdjust="spacingAndGlyphs">PR</text><rect x="383.45" y="247.85" width="7.9" height="7.3" rx="0.5" fill="#c4102f" stroke="#5a0614" stroke-width="0.9"/><text x="387.40" y="253.15" font-size="4.5" font-weight="bold" fill="#f4d0d8" text-anchor="middle" font-family="'Liberation Sans', Arial, sans-serif" textLength="5.3" lengthAdjust="spacingAndGlyphs">PD</text><rect x="140.15" y="257.41" width="7.9" height="7.3" rx="0.5" fill="#5cb139" stroke="#24461a" stroke-width="0.9"/><text x="144.10" y="262.71" font-size="4.5" font-weight="bold" fill="#d8f0c8" text-anchor="middle" font-family="'Liberation Sans', Arial, sans-serif" textLength="5.3" lengthAdjust="spacingAndGlyphs">PR</text><rect x="261.80" y="257.41" width="7.9" height="7.3" rx="0.5" fill="#5cb139" stroke="#24461a" stroke-width="0.9"/><text x="265.75" y="262.71" font-size="4.5" font-weight="bold" fill="#d8f0c8" text-anchor="middle" font-family="'Liberation Sans', Arial, sans-serif" textLength="5.3" lengthAdjust="spacingAndGlyphs">PR</text><rect x="383.45" y="257.41" width="7.9" height="7.3" rx="0.5" fill="#5cb139" stroke="#24461a" stroke-width="0.9"/><text x="387.40" y="262.71" font-size="4.5" font-weight="bold" fill="#d8f0c8" text-anchor="middle" font-family="'Liberation Sans', Arial, sans-serif" textLength="5.3" lengthAdjust="spacingAndGlyphs">PR</text><rect x="505.10" y="257.41" width="7.9" height="7.3" rx="0.5" fill="#5cb139" stroke="#24461a" stroke-width="0.9"/><text x="509.05" y="262.71" font-size="4.5" font-weight="bold" fill="#d8f0c8" text-anchor="middle" font-family="'Liberation Sans', Arial, sans-serif" textLength="5.3" lengthAdjust="spacingAndGlyphs">PR</text><rect x="140.15" y="266.96" width="7.9" height="7.3" rx="0.5" fill="#5cb139" stroke="#24461a" stroke-width="0.9"/><text x="144.10" y="272.26" font-size="4.5" font-weight="bold" fill="#d8f0c8" text-anchor="middle" font-family="'Liberation Sans', Arial, sans-serif" textLength="5.3" lengthAdjust="spacingAndGlyphs">PR</text><rect x="261.80" y="266.96" width="7.9" height="7.3" rx="0.5" fill="#5cb139" stroke="#24461a" stroke-width="0.9"/><text x="265.75" y="272.26" font-size="4.5" font-weight="bold" fill="#d8f0c8" text-anchor="middle" font-family="'Liberation Sans', Arial, sans-serif" textLength="5.3" lengthAdjust="spacingAndGlyphs">PR</text><rect x="383.45" y="266.96" width="7.9" height="7.3" rx="0.5" fill="#5cb139" stroke="#24461a" stroke-width="0.9"/><text x="387.40" y="272.26" font-size="4.5" font-weight="bold" fill="#d8f0c8" text-anchor="middle" font-family="'Liberation Sans', Arial, sans-serif" textLength="5.3" lengthAdjust="spacingAndGlyphs">PR</text><rect x="505.10" y="266.96" width="7.9" height="7.3" rx="0.5" fill="#5cb139" stroke="#24461a" stroke-width="0.9"/><text x="509.05" y="272.26" font-size="4.5" font-weight="bold" fill="#d8f0c8" text-anchor="middle" font-family="'Liberation Sans', Arial, sans-serif" textLength="5.3" lengthAdjust="spacingAndGlyphs">PR</text><rect x="140.15" y="276.52" width="7.9" height="7.3" rx="0.5" fill="#5cb139" stroke="#24461a" stroke-width="0.9"/><text x="144.10" y="281.82" font-size="4.5" font-weight="bold" fill="#d8f0c8" text-anchor="middle" font-family="'Liberation Sans', Arial, sans-serif" textLength="5.3" lengthAdjust="spacingAndGlyphs">PR</text><rect x="261.80" y="276.52" width="7.9" height="7.3" rx="0.5" fill="#5cb139" stroke="#24461a" stroke-width="0.9"/><text x="265.75" y="281.82" font-size="4.5" font-weight="bold" fill="#d8f0c8" text-anchor="middle" font-family="'Liberation Sans', Arial, sans-serif" textLength="5.3" lengthAdjust="spacingAndGlyphs">PR</text><rect x="383.45" y="276.52" width="7.9" height="7.3" rx="0.5" fill="#5cb139" stroke="#24461a" stroke-width="0.9"/><text x="387.40" y="281.82" font-size="4.5" font-weight="bold" fill="#d8f0c8" text-anchor="middle" font-family="'Liberation Sans', Arial, sans-serif" textLength="5.3" lengthAdjust="spacingAndGlyphs">PR</text><rect x="505.10" y="276.52" width="7.9" height="7.3" rx="0.5" fill="#5cb139" stroke="#24461a" stroke-width="0.9"/><text x="509.05" y="281.82" font-size="4.5" font-weight="bold" fill="#d8f0c8" text-anchor="middle" font-family="'Liberation Sans', Arial, sans-serif" textLength="5.3" lengthAdjust="spacingAndGlyphs">PR</text><rect x="140.15" y="286.07" width="7.9" height="7.3" rx="0.5" fill="#5cb139" stroke="#24461a" stroke-width="0.9"/><text x="144.10" y="291.37" font-size="4.5" font-weight="bold" fill="#d8f0c8" text-anchor="middle" font-family="'Liberation Sans', Arial, sans-serif" textLength="5.3" lengthAdjust="spacingAndGlyphs">PR</text><rect x="261.80" y="286.07" width="7.9" height="7.3" rx="0.5" fill="#5cb139" stroke="#24461a" stroke-width="0.9"/><text x="265.75" y="291.37" font-size="4.5" font-weight="bold" fill="#d8f0c8" text-anchor="middle" font-family="'Liberation Sans', Arial, sans-serif" textLength="5.3" lengthAdjust="spacingAndGlyphs">PR</text><rect x="383.45" y="286.07" width="7.9" height="7.3" rx="0.5" fill="#5cb139" stroke="#24461a" stroke-width="0.9"/><text x="387.40" y="291.37" font-size="4.5" font-weight="bold" fill="#d8f0c8" text-anchor="middle" font-family="'Liberation Sans', Arial, sans-serif" textLength="5.3" lengthAdjust="spacingAndGlyphs">PR</text><rect x="505.10" y="286.07" width="7.9" height="7.3" rx="0.5" fill="#5cb139" stroke="#24461a" stroke-width="0.9"/><text x="509.05" y="291.37" font-size="4.5" font-weight="bold" fill="#d8f0c8" text-anchor="middle" font-family="'Liberation Sans', Arial, sans-serif" textLength="5.3" lengthAdjust="spacingAndGlyphs">PR</text><rect x="140.15" y="295.63" width="7.9" height="7.3" rx="0.5" fill="#5cb139" stroke="#24461a" stroke-width="0.9"/><text x="144.10" y="300.93" font-size="4.5" font-weight="bold" fill="#d8f0c8" text-anchor="middle" font-family="'Liberation Sans', Arial, sans-serif" textLength="5.3" lengthAdjust="spacingAndGlyphs">PR</text><rect x="261.80" y="295.63" width="7.9" height="7.3" rx="0.5" fill="#5cb139" stroke="#24461a" stroke-width="0.9"/><text x="265.75" y="300.93" font-size="4.5" font-weight="bold" fill="#d8f0c8" text-anchor="middle" font-family="'Liberation Sans', Arial, sans-serif" textLength="5.3" lengthAdjust="spacingAndGlyphs">PR</text><rect x="383.45" y="295.63" width="7.9" height="7.3" rx="0.5" fill="#5cb139" stroke="#24461a" stroke-width="0.9"/><text x="387.40" y="300.93" font-size="4.5" font-weight="bold" fill="#d8f0c8" text-anchor="middle" font-family="'Liberation Sans', Arial, sans-serif" textLength="5.3" lengthAdjust="spacingAndGlyphs">PR</text><rect x="505.10" y="295.63" width="7.9" height="7.3" rx="0.5" fill="#5cb139" stroke="#24461a" stroke-width="0.9"/><text x="509.05" y="300.93" font-size="4.5" font-weight="bold" fill="#d8f0c8" text-anchor="middle" font-family="'Liberation Sans', Arial, sans-serif" textLength="5.3" lengthAdjust="spacingAndGlyphs">PR</text><rect x="140.15" y="305.19" width="7.9" height="7.3" rx="0.5" fill="#5cb139" stroke="#24461a" stroke-width="0.9"/><text x="144.10" y="310.49" font-size="4.5" font-weight="bold" fill="#d8f0c8" text-anchor="middle" font-family="'Liberation Sans', Arial, sans-serif" textLength="5.3" lengthAdjust="spacingAndGlyphs">PR</text><rect x="261.80" y="305.19" width="7.9" height="7.3" rx="0.5" fill="#5cb139" stroke="#24461a" stroke-width="0.9"/><text x="265.75" y="310.49" font-size="4.5" font-weight="bold" fill="#d8f0c8" text-anchor="middle" font-family="'Liberation Sans', Arial, sans-serif" textLength="5.3" lengthAdjust="spacingAndGlyphs">PR</text><rect x="383.45" y="305.19" width="7.9" height="7.3" rx="0.5" fill="#5cb139" stroke="#24461a" stroke-width="0.9"/><text x="387.40" y="310.49" font-size="4.5" font-weight="bold" fill="#d8f0c8" text-anchor="middle" font-family="'Liberation Sans', Arial, sans-serif" textLength="5.3" lengthAdjust="spacingAndGlyphs">PR</text><rect x="505.10" y="305.19" width="7.9" height="7.3" rx="0.5" fill="#5cb139" stroke="#24461a" stroke-width="0.9"/><text x="509.05" y="310.49" font-size="4.5" font-weight="bold" fill="#d8f0c8" text-anchor="middle" font-family="'Liberation Sans', Arial, sans-serif" textLength="5.3" lengthAdjust="spacingAndGlyphs">PR</text><rect x="140.15" y="314.74" width="7.9" height="7.3" rx="0.5" fill="#5cb139" stroke="#24461a" stroke-width="0.9"/><text x="144.10" y="320.04" font-size="4.5" font-weight="bold" fill="#d8f0c8" text-anchor="middle" font-family="'Liberation Sans', Arial, sans-serif" textLength="5.3" lengthAdjust="spacingAndGlyphs">PR</text><rect x="261.80" y="314.74" width="7.9" height="7.3" rx="0.5" fill="#5cb139" stroke="#24461a" stroke-width="0.9"/><text x="265.75" y="320.04" font-size="4.5" font-weight="bold" fill="#d8f0c8" text-anchor="middle" font-family="'Liberation Sans', Arial, sans-serif" textLength="5.3" lengthAdjust="spacingAndGlyphs">PR</text><rect x="383.45" y="314.74" width="7.9" height="7.3" rx="0.5" fill="#5cb139" stroke="#24461a" stroke-width="0.9"/><text x="387.40" y="320.04" font-size="4.5" font-weight="bold" fill="#d8f0c8" text-anchor="middle" font-family="'Liberation Sans', Arial, sans-serif" textLength="5.3" lengthAdjust="spacingAndGlyphs">PR</text><rect x="505.10" y="314.74" width="7.9" height="7.3" rx="0.5" fill="#5cb139" stroke="#24461a" stroke-width="0.9"/><text x="509.05" y="320.04" font-size="4.5" font-weight="bold" fill="#d8f0c8" text-anchor="middle" font-family="'Liberation Sans', Arial, sans-serif" textLength="5.3" lengthAdjust="spacingAndGlyphs">PR</text><rect x="140.15" y="324.30" width="7.9" height="7.3" rx="0.5" fill="#5cb139" stroke="#24461a" stroke-width="0.9"/><text x="144.10" y="329.60" font-size="4.5" font-weight="bold" fill="#d8f0c8" text-anchor="middle" font-family="'Liberation Sans', Arial, sans-serif" textLength="5.3" lengthAdjust="spacingAndGlyphs">PR</text><rect x="261.80" y="324.30" width="7.9" height="7.3" rx="0.5" fill="#5cb139" stroke="#24461a" stroke-width="0.9"/><text x="265.75" y="329.60" font-size="4.5" font-weight="bold" fill="#d8f0c8" text-anchor="middle" font-family="'Liberation Sans', Arial, sans-serif" textLength="5.3" lengthAdjust="spacingAndGlyphs">PR</text><rect x="383.45" y="324.30" width="7.9" height="7.3" rx="0.5" fill="#5cb139" stroke="#24461a" stroke-width="0.9"/><text x="387.40" y="329.60" font-size="4.5" font-weight="bold" fill="#d8f0c8" text-anchor="middle" font-family="'Liberation Sans', Arial, sans-serif" textLength="5.3" lengthAdjust="spacingAndGlyphs">PR</text><rect x="505.10" y="324.30" width="7.9" height="7.3" rx="0.5" fill="#5cb139" stroke="#24461a" stroke-width="0.9"/><text x="509.05" y="329.60" font-size="4.5" font-weight="bold" fill="#d8f0c8" text-anchor="middle" font-family="'Liberation Sans', Arial, sans-serif" textLength="5.3" lengthAdjust="spacingAndGlyphs">PR</text><text x="18.8" y="14.65" font-size="6.3" fill="#2a2a2a" text-anchor="end" font-family="'Liberation Sans', Arial, sans-serif" textLength="9.0" lengthAdjust="spacingAndGlyphs">44F</text><text x="18.8" y="24.21" font-size="6.3" fill="#2a2a2a" text-anchor="end" font-family="'Liberation Sans', Arial, sans-serif" textLength="11.2" lengthAdjust="spacingAndGlyphs">31M</text><text x="18.8" y="33.76" font-size="6.3" fill="#2a2a2a" text-anchor="end" font-family="'Liberation Sans', Arial, sans-serif" textLength="11.2" lengthAdjust="spacingAndGlyphs">61M</text><text x="18.8" y="43.32" font-size="6.3" fill="#2a2a2a" text-anchor="end" font-family="'Liberation Sans', Arial, sans-serif" textLength="11.2" lengthAdjust="spacingAndGlyphs">60M</text><text x="18.8" y="52.87" font-size="6.3" fill="#2a2a2a" text-anchor="end" font-family="'Liberation Sans', Arial, sans-serif" textLength="11.2" lengthAdjust="spacingAndGlyphs">52M</text><text x="18.8" y="62.43" font-size="6.3" fill="#2a2a2a" text-anchor="end" font-family="'Liberation Sans', Arial, sans-serif" textLength="9.0" lengthAdjust="spacingAndGlyphs">35F</text><text x="18.8" y="71.99" font-size="6.3" fill="#2a2a2a" text-anchor="end" font-family="'Liberation Sans', Arial, sans-serif" textLength="9.0" lengthAdjust="spacingAndGlyphs">28F</text><text x="18.8" y="81.54" font-size="6.3" fill="#2a2a2a" text-anchor="end" font-family="'Liberation Sans', Arial, sans-serif" textLength="11.2" lengthAdjust="spacingAndGlyphs">64M</text><text x="18.8" y="91.10" font-size="6.3" fill="#2a2a2a" text-anchor="end" font-family="'Liberation Sans', Arial, sans-serif" textLength="9.0" lengthAdjust="spacingAndGlyphs">21F</text><text x="18.8" y="100.65" font-size="6.3" fill="#2a2a2a" text-anchor="end" font-family="'Liberation Sans', Arial, sans-serif" textLength="11.2" lengthAdjust="spacingAndGlyphs">59M</text><text x="18.8" y="110.21" font-size="6.3" fill="#2a2a2a" text-anchor="end" font-family="'Liberation Sans', Arial, sans-serif" textLength="11.2" lengthAdjust="spacingAndGlyphs">58M</text><text x="18.8" y="119.77" font-size="6.3" fill="#2a2a2a" text-anchor="end" font-family="'Liberation Sans', Arial, sans-serif" textLength="11.2" lengthAdjust="spacingAndGlyphs">68M</text><text x="18.8" y="129.32" font-size="6.3" fill="#2a2a2a" text-anchor="end" font-family="'Liberation Sans', Arial, sans-serif" textLength="9.0" lengthAdjust="spacingAndGlyphs">57F</text><text x="18.8" y="138.88" font-size="6.3" fill="#2a2a2a" text-anchor="end" font-family="'Liberation Sans', Arial, sans-serif" textLength="11.2" lengthAdjust="spacingAndGlyphs">48M</text><text x="18.8" y="148.43" font-size="6.3" fill="#2a2a2a" text-anchor="end" font-family="'Liberation Sans', Arial, sans-serif" textLength="11.2" lengthAdjust="spacingAndGlyphs">31M</text><text x="18.8" y="157.99" font-size="6.3" fill="#2a2a2a" text-anchor="end" font-family="'Liberation Sans', Arial, sans-serif" textLength="9.0" lengthAdjust="spacingAndGlyphs">52F</text><text x="18.8" y="167.55" font-size="6.3" fill="#2a2a2a" text-anchor="end" font-family="'Liberation Sans', Arial, sans-serif" textLength="9.0" lengthAdjust="spacingAndGlyphs">47F</text><text x="18.8" y="177.10" font-size="6.3" fill="#2a2a2a" text-anchor="end" font-family="'Liberation Sans', Arial, sans-serif" textLength="9.0" lengthAdjust="spacingAndGlyphs">47F</text><text x="18.8" y="186.66" font-size="6.3" fill="#2a2a2a" text-anchor="end" font-family="'Liberation Sans', Arial, sans-serif" textLength="11.2" lengthAdjust="spacingAndGlyphs">72M</text><text x="18.8" y="196.21" font-size="6.3" fill="#2a2a2a" text-anchor="end" font-family="'Liberation Sans', Arial, sans-serif" textLength="9.0" lengthAdjust="spacingAndGlyphs">51F</text><text x="18.8" y="205.77" font-size="6.3" fill="#2a2a2a" text-anchor="end" font-family="'Liberation Sans', Arial, sans-serif" textLength="11.2" lengthAdjust="spacingAndGlyphs">36M</text><text x="18.8" y="215.33" font-size="6.3" fill="#2a2a2a" text-anchor="end" font-family="'Liberation Sans', Arial, sans-serif" textLength="11.2" lengthAdjust="spacingAndGlyphs">20M</text><text x="18.8" y="224.88" font-size="6.3" fill="#2a2a2a" text-anchor="end" font-family="'Liberation Sans', Arial, sans-serif" textLength="11.2" lengthAdjust="spacingAndGlyphs">51M</text><text x="18.8" y="234.44" font-size="6.3" fill="#2a2a2a" text-anchor="end" font-family="'Liberation Sans', Arial, sans-serif" textLength="11.2" lengthAdjust="spacingAndGlyphs">38M</text><text x="18.8" y="243.99" font-size="6.3" fill="#2a2a2a" text-anchor="end" font-family="'Liberation Sans', Arial, sans-serif" textLength="11.2" lengthAdjust="spacingAndGlyphs">68M</text><text x="18.8" y="253.55" font-size="6.3" fill="#2a2a2a" text-anchor="end" font-family="'Liberation Sans', Arial, sans-serif" textLength="11.2" lengthAdjust="spacingAndGlyphs">43M</text><text x="18.8" y="263.11" font-size="6.3" fill="#2a2a2a" text-anchor="end" font-family="'Liberation Sans', Arial, sans-serif" textLength="11.2" lengthAdjust="spacingAndGlyphs">40M</text><text x="18.8" y="272.66" font-size="6.3" fill="#2a2a2a" text-anchor="end" font-family="'Liberation Sans', Arial, sans-serif" textLength="9.0" lengthAdjust="spacingAndGlyphs">47F</text><text x="18.8" y="282.22" font-size="6.3" fill="#2a2a2a" text-anchor="end" font-family="'Liberation Sans', Arial, sans-serif" textLength="11.2" lengthAdjust="spacingAndGlyphs">46M</text><text x="18.8" y="291.77" font-size="6.3" fill="#2a2a2a" text-anchor="end" font-family="'Liberation Sans', Arial, sans-serif" textLength="11.2" lengthAdjust="spacingAndGlyphs">30M</text><text x="18.8" y="301.33" font-size="6.3" fill="#2a2a2a" text-anchor="end" font-family="'Liberation Sans', Arial, sans-serif" textLength="9.0" lengthAdjust="spacingAndGlyphs">53F</text><text x="18.8" y="310.89" font-size="6.3" fill="#2a2a2a" text-anchor="end" font-family="'Liberation Sans', Arial, sans-serif" textLength="11.2" lengthAdjust="spacingAndGlyphs">28M</text><text x="18.8" y="320.44" font-size="6.3" fill="#2a2a2a" text-anchor="end" font-family="'Liberation Sans', Arial, sans-serif" textLength="9.0" lengthAdjust="spacingAndGlyphs">51F</text><text x="18.8" y="330.00" font-size="6.3" fill="#2a2a2a" text-anchor="end" font-family="'Liberation Sans', Arial, sans-serif" textLength="11.2" lengthAdjust="spacingAndGlyphs">65M</text><text x="42.82" y="343.2" font-size="6" fill="#222222" text-anchor="middle" font-family="'Liberation Sans', Arial, sans-serif">1</text><text x="83.38" y="343.2" font-size="6" fill="#222222" text-anchor="middle" font-family="'Liberation Sans', Arial, sans-serif">2</text><text x="123.92" y="343.2" font-size="6" fill="#222222" text-anchor="middle" font-family="'Liberation Sans', Arial, sans-serif">3</text><text x="164.47" y="343.2" font-size="6" fill="#222222" text-anchor="middle" font-family="'Liberation Sans', Arial, sans-serif">4</text><text x="205.03" y="343.2" font-size="6" fill="#222222" text-anchor="middle" font-family="'Liberation Sans', Arial, sans-serif">5</text><text x="245.57" y="343.2" font-size="6" fill="#222222" text-anchor="middle" font-family="'Liberation Sans', Arial, sans-serif">6</text><text x="286.12" y="343.2" font-size="6" fill="#222222" text-anchor="middle" font-family="'Liberation Sans', Arial, sans-serif">7</text><text x="326.67" y="343.2" font-size="6" fill="#222222" text-anchor="middle" font-family="'Liberation Sans', Arial, sans-serif">8</text><text x="367.23" y="343.2" font-size="6" fill="#222222" text-anchor="middle" font-family="'Liberation Sans', Arial, sans-serif">9</text><text x="407.77" y="343.2" font-size="6" fill="#222222" text-anchor="middle" font-family="'Liberation Sans', Arial, sans-serif">10</text><text x="448.32" y="343.2" font-size="6" fill="#222222" text-anchor="middle" font-family="'Liberation Sans', Arial, sans-serif">11</text><text x="488.88" y="343.2" font-size="6" fill="#222222" text-anchor="middle" font-family="'Liberation Sans', Arial, sans-serif">12</text><text x="265.7" y="354.6" font-size="8.6" fill="#2a2a2a" text-anchor="middle" font-family="'Liberation Sans', Arial, sans-serif" textLength="14.6" lengthAdjust="spacingAndGlyphs">Cycle</text><text x="408.0" y="131.0" font-size="5.7" fill="#333333" text-anchor="middle" font-family="'Liberation Sans', Arial, sans-serif" textLength="15.2" lengthAdjust="spacingAndGlyphs">Legend</text><rect x="385.7" y="134.8" width="18.2" height="8.4" fill="#2d4a7c" stroke="#1e3768" stroke-width="0.8"/><text x="407.5" y="140.8" font-size="5.7" fill="#1a1a1a" text-anchor="start" font-family="'Liberation Sans', Arial, sans-serif" textLength="19.5" lengthAdjust="spacingAndGlyphs">2 mg/day</text><rect x="385.7" y="147.3" width="18.2" height="8.4" fill="#2d4a7c" stroke="#1e3768" stroke-width="0.8"/><text x="394.8" y="153.3" font-size="4.6" fill="#e8ecf4" text-anchor="middle" font-style="italic" font-weight="bold" font-family="'Liberation Sans', Arial, sans-serif">#.##</text><text x="407.5" y="153.4" font-size="5.7" fill="#1a1a1a" text-anchor="start" font-family="'Liberation Sans', Arial, sans-serif" textLength="50.9" lengthAdjust="spacingAndGlyphs">Avg. dose/d per pt diary</text><rect x="385.7" y="160.1" width="18.2" height="8.4" fill="#afbb85" stroke="#a2b078" stroke-width="0.8"/><text x="407.5" y="166.3" font-size="5.7" fill="#1a1a1a" text-anchor="start" font-family="'Liberation Sans', Arial, sans-serif" textLength="23.6" lengthAdjust="spacingAndGlyphs">0.5 mg/day</text><circle cx="394.7" cy="174.8" r="2.0" fill="none" stroke="#2a2a2a" stroke-width="0.85"/><text x="407.5" y="177.1" font-size="5.7" fill="#1a1a1a" text-anchor="start" font-family="'Liberation Sans', Arial, sans-serif" textLength="27.2" lengthAdjust="spacingAndGlyphs">Steroid pulse</text><rect x="390.85" y="181.85" width="7.9" height="7.3" rx="0.5" fill="#5cb139" stroke="#24461a" stroke-width="0.9"/><text x="394.80" y="187.15" font-size="4.5" font-weight="bold" fill="#d8f0c8" text-anchor="middle" font-family="'Liberation Sans', Arial, sans-serif" textLength="5.3" lengthAdjust="spacingAndGlyphs">PR</text><text x="407.5" y="187.0" font-size="5.7" fill="#1a1a1a" text-anchor="start" font-family="'Liberation Sans', Arial, sans-serif" textLength="31.2" lengthAdjust="spacingAndGlyphs">Partial reponse</text><rect x="390.85" y="192.55" width="7.9" height="7.3" rx="0.5" fill="#3d4452" stroke="#15181e" stroke-width="0.9"/><text x="394.80" y="197.85" font-size="4.5" font-weight="bold" fill="#d8dce4" text-anchor="middle" font-family="'Liberation Sans', Arial, sans-serif" textLength="5.3" lengthAdjust="spacingAndGlyphs">SD</text><text x="407.5" y="198.3" font-size="5.7" fill="#1a1a1a" text-anchor="start" font-family="'Liberation Sans', Arial, sans-serif" textLength="29.8" lengthAdjust="spacingAndGlyphs">Stable disease</text><rect x="390.85" y="203.35" width="7.9" height="7.3" rx="0.5" fill="#c4102f" stroke="#5a0614" stroke-width="0.9"/><text x="394.80" y="208.65" font-size="4.5" font-weight="bold" fill="#f4d0d8" text-anchor="middle" font-family="'Liberation Sans', Arial, sans-serif" textLength="5.3" lengthAdjust="spacingAndGlyphs">PD</text><text x="407.5" y="208.8" font-size="5.7" fill="#1a1a1a" text-anchor="start" font-family="'Liberation Sans', Arial, sans-serif" textLength="40.8" lengthAdjust="spacingAndGlyphs">Progressive disease</text><rect x="390.85" y="214.05" width="7.9" height="7.3" rx="0.5" fill="#cfcfcf" stroke="#2e2e2e" stroke-width="0.9"/><text x="394.80" y="219.35" font-size="4.5" font-weight="bold" fill="#333333" text-anchor="middle" font-family="'Liberation Sans', Arial, sans-serif" textLength="5.3" lengthAdjust="spacingAndGlyphs">NE</text><text x="407.5" y="219.2" font-size="5.7" fill="#1a1a1a" text-anchor="start" font-family="'Liberation Sans', Arial, sans-serif" textLength="29.0" lengthAdjust="spacingAndGlyphs">Not evaluable</text><rect x="0" y="0" width="520" height="1" fill="#000"/><rect x="0" y="0" width="1" height="363" fill="#000"/><rect x="519" y="0" width="1" height="363" fill="#000"/><rect x="0" y="361.4" width="520" height="1.6" fill="#000"/></svg>
</body></html>
